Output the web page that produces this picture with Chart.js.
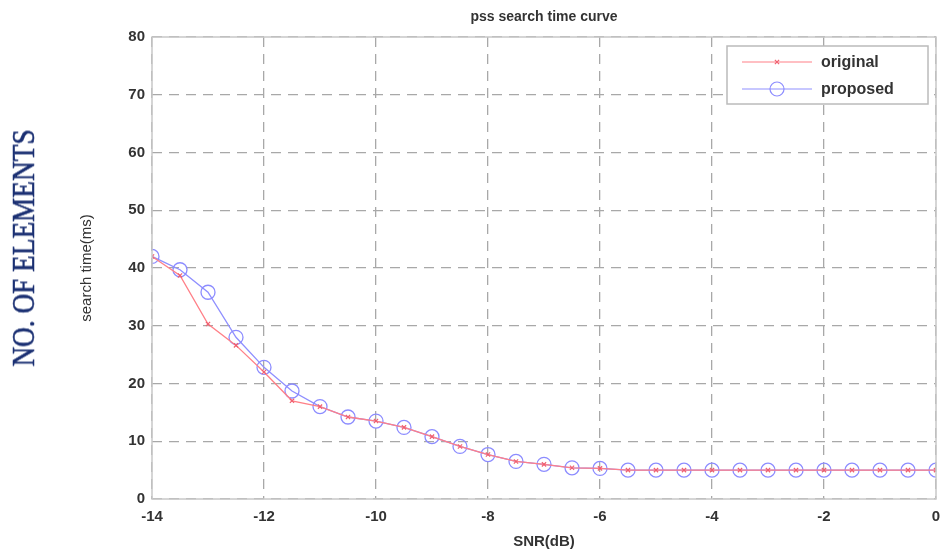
<!DOCTYPE html>
<html>
<head>
<meta charset="utf-8">
<script src="https://cdn.jsdelivr.net/npm/chart.js@4.4.1/dist/chart.umd.min.js"></script>
<style>
  html, body { margin: 0; padding: 0; background: #fff; }
  #wrap { position: relative; width: 940px; height: 551px; }
  #side {
    position: absolute; left: 24px; top: 248px;
    font-family: "Liberation Serif", "DejaVu Serif", serif;
    font-size: 31px; color: #1a2f72; white-space: nowrap;
    -webkit-text-stroke: 0.6px #1a2f72;
    transform: translate(-50%, -50%) rotate(-90deg) scaleX(0.88);
  }
</style>
</head>
<body>
<div id="wrap">
  <canvas id="grafica" width="940" height="551"></canvas>
  <div id="side">NO. OF ELEMENTS</div>
</div>
<script>
// Datos
const snr = [-14, -13.5, -13, -12.5, -12, -11.5, -11, -10.5, -10, -9.5, -9, -8.5, -8, -7.5, -7,
             -6.5, -6, -5.5, -5, -4.5, -4, -3.5, -3, -2.5, -2, -1.5, -1, -0.5, 0];
const original = [42, 38.7, 30.3, 26.6, 22, 17, 16, 14.2, 13.5, 12.4, 10.8, 9.1, 7.7, 6.5, 6,
                  5.4, 5.3, 5, 5, 5, 5, 5, 5, 5, 5, 5, 5, 5, 5];
const proposed = [42, 39.7, 35.8, 28, 22.8, 18.7, 16, 14.2, 13.5, 12.4, 10.8, 9.1, 7.7, 6.5, 6,
                  5.4, 5.3, 5, 5, 5, 5, 5, 5, 5, 5, 5, 5, 5, 5];
const xTicks = [-14, -12, -10, -8, -6, -4, -2, 0];
const yTicks = [0, 10, 20, 30, 40, 50, 60, 70, 80];

const FUENTE = '"Liberation Sans", Arial, sans-serif';
const toXY = arr => arr.map((v, i) => ({ x: snr[i], y: v }));

// Plugin: titulo, marco y leyenda dentro del area
const extras = {
  id: 'extras',
  afterDraw(chart) {
    const { ctx, chartArea: a } = chart;
    ctx.save();
    // marco
    ctx.strokeStyle = '#c8c8c8';
    ctx.lineWidth = 1.5;
    ctx.strokeRect(a.left, a.top, a.right - a.left, a.bottom - a.top);
    // titulo
    ctx.fillStyle = '#333';
    ctx.font = 'bold 14px ' + FUENTE;
    ctx.textAlign = 'center';
    ctx.textBaseline = 'middle';
    ctx.fillText('pss search time curve', (a.left + a.right) / 2, 17);
    // leyenda
    const bx = 727, by = 46, bw = 201, bh = 58;
    ctx.fillStyle = '#fff';
    ctx.fillRect(bx, by, bw, bh);
    ctx.strokeStyle = '#bbb';
    ctx.lineWidth = 1.5;
    ctx.strokeRect(bx, by, bw, bh);
    ctx.font = 'bold 16px ' + FUENTE;
    ctx.textAlign = 'left';
    chart.data.datasets.forEach((ds, i) => {
      const y = by + 16 + i * 27;
      ctx.strokeStyle = ds.borderColor;
      ctx.lineWidth = 1.2;
      ctx.beginPath();
      ctx.moveTo(bx + 15, y);
      ctx.lineTo(bx + 85, y);
      ctx.stroke();
      ctx.strokeStyle = ds.pointBorderColor;
      ctx.fillStyle = 'rgba(0,0,0,0)';
      Chart.helpers.drawPoint(ctx, {
        pointStyle: ds.pointStyle, radius: ds.pointRadius, borderWidth: 1.2
      }, bx + 50, y);
      ctx.fillStyle = '#333';
      ctx.fillText(ds.label, bx + 94, y + 1);
    });
    ctx.restore();
  }
};

new Chart(document.getElementById('grafica').getContext('2d'), {
  type: 'line',
  data: {
    datasets: [
      {
        label: 'original',
        data: toXY(original),
        borderColor: '#ff8088',
        backgroundColor: 'transparent',
        borderWidth: 1.3,
        pointStyle: 'crossRot',
        pointRadius: 3,
        pointBorderColor: '#f06070',
        pointBorderWidth: 1.2
      },
      {
        label: 'proposed',
        data: toXY(proposed),
        borderColor: '#8f8fff',
        backgroundColor: 'transparent',
        borderWidth: 1.3,
        pointStyle: 'circle',
        pointRadius: 7,
        pointBorderColor: '#8c8cff',
        pointBackgroundColor: 'transparent',
        pointBorderWidth: 1.3
      }
    ]
  },
  options: {
    responsive: false,
    animation: false,
    layout: { autoPadding: false, padding: { left: 75, top: 37, right: 4, bottom: 0 } },
    plugins: {
      legend: { display: false },
      tooltip: { enabled: false }
    },
    scales: {
      x: {
        type: 'linear',
        min: -14,
        max: 0,
        afterBuildTicks: s => { s.ticks = xTicks.map(v => ({ value: v })); },
        afterFit: s => { s.height = 52; s.paddingRight = 0; },
        grid: { color: '#a8a8a8', lineWidth: 1.3, drawTicks: false },
        border: { display: false, dash: [10, 7] },
        ticks: { padding: 9, color: '#333', font: { family: FUENTE, size: 15, weight: 'bold' } },
        title: { display: true, text: 'SNR(dB)', color: '#333', padding: { top: 2, bottom: 0 },
                 font: { family: FUENTE, size: 15, weight: 'bold' } }
      },
      y: {
        min: 0,
        max: 80,
        afterBuildTicks: s => { s.ticks = yTicks.map(v => ({ value: v })); },
        afterFit: s => { s.width = 77; },
        grid: { color: '#a8a8a8', lineWidth: 1.3, drawTicks: false },
        border: { display: false, dash: [10, 7] },
        ticks: { padding: 7, color: '#333', font: { family: FUENTE, size: 15, weight: 'bold' } },
        title: { display: true, text: 'search time(ms)', color: '#333', padding: { top: 3, bottom: 4 },
                 font: { family: FUENTE, size: 15 } }
      }
    }
  },
  plugins: [extras]
});
</script>
</body>
</html>
